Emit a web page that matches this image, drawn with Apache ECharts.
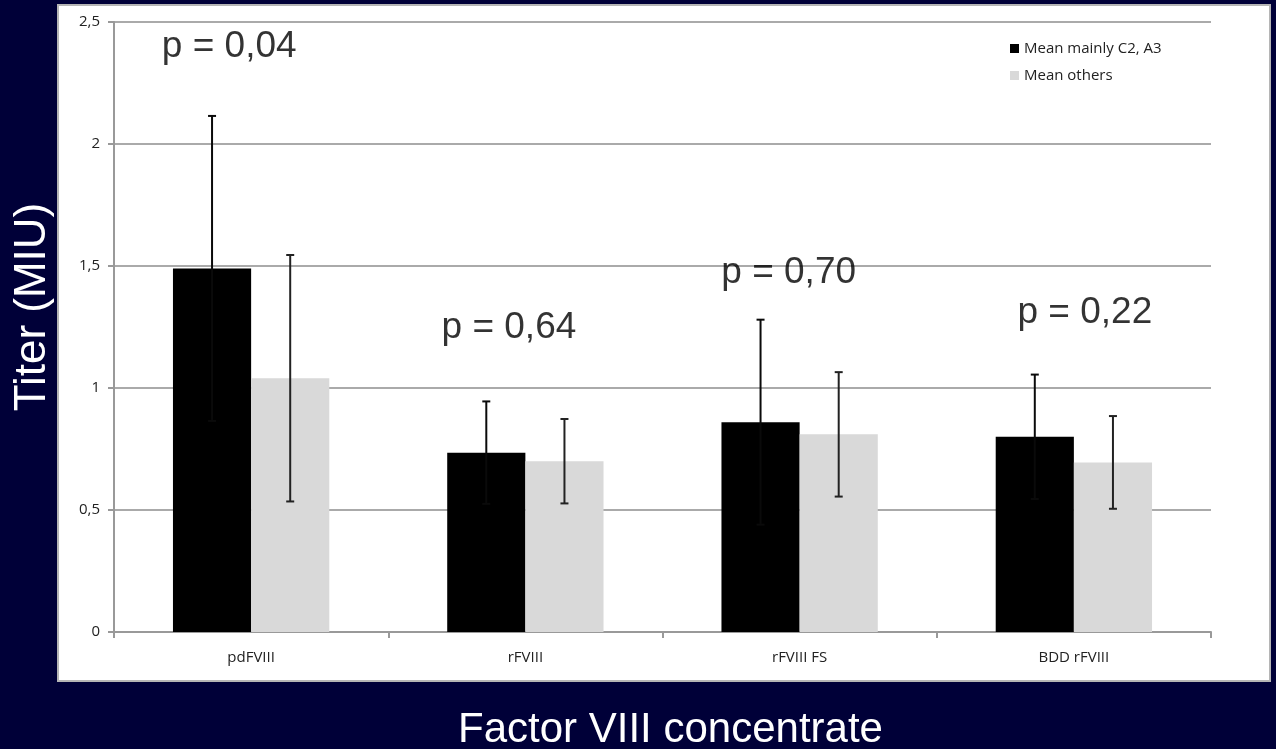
<!DOCTYPE html>
<html>
<head>
<meta charset="utf-8">
<script src="https://cdn.jsdelivr.net/npm/echarts@6/dist/echarts.min.js"></script>
<style>
html,body{margin:0;padding:0;background:#000038;}
#chart{width:1276px;height:749px;}
</style>
</head>
<body>
<div id="chart"></div>
<script>
var categories = ['pdFVIII', 'rFVIII', 'rFVIII FS', 'BDD rFVIII'];
var meanC2A3 = [1.49, 0.735, 0.86, 0.80];
var sdC2A3 = [0.625, 0.21, 0.42, 0.255];
var meanOthers = [1.04, 0.70, 0.81, 0.695];
var sdOthers = [0.505, 0.173, 0.255, 0.19];
var pLabels = ['p = 0,04', 'p = 0,64', 'p = 0,70', 'p = 0,22'];
var pX = [0.42, 1.44, 2.46, 3.54];
var pY = [2.40, 1.248, 1.472, 1.31];
var yTicks = ['0', '0,5', '1', '1,5', '2', '2,5'];

var CAT_GAP = 0.43;

function errorSeries(name, means, sds, side, color) {
  return {
    type: 'custom',
    name: name + ' SD',
    xAxisIndex: 0,
    yAxisIndex: 0,
    z: 5,
    silent: true,
    data: means.map(function (m, i) { return [i, m - sds[i], m + sds[i]]; }),
    renderItem: function (params, api) {
      var idx = api.value(0);
      var band = api.size([1, 0])[0];
      var barW = band * (1 - CAT_GAP) / 2;
      var lo = api.coord([idx, api.value(1)]);
      var hi = api.coord([idx, api.value(2)]);
      var x = lo[0] + side * barW / 2;
      var cap = 4;
      var st = { stroke: color, lineWidth: 2 };
      return {
        type: 'group',
        children: [
          { type: 'line', shape: { x1: x, y1: lo[1], x2: x, y2: hi[1] }, style: st },
          { type: 'line', shape: { x1: x - cap, y1: lo[1], x2: x + cap, y2: lo[1] }, style: st },
          { type: 'line', shape: { x1: x - cap, y1: hi[1], x2: x + cap, y2: hi[1] }, style: st }
        ]
      };
    }
  };
}

var chart = echarts.init(document.getElementById('chart'));
chart.setOption({
  backgroundColor: '#000038',
  animation: false,
  graphic: [
    {
      type: 'rect', z: -10, silent: true,
      shape: { x: 58, y: 5, width: 1212, height: 676 },
      style: { fill: '#ffffff', stroke: '#b5b5b5', lineWidth: 2 }
    }
  ],
  grid: { left: 114, right: 65, top: 22, bottom: 117, containLabel: false, outerBoundsMode: 'none' },
  legend: {
    orient: 'vertical',
    left: 1005,
    top: 36,
    itemWidth: 9,
    itemHeight: 9,
    itemGap: 12,
    icon: 'rect',
    data: ['Mean mainly C2, A3', 'Mean others'],
    textStyle: { fontFamily: 'Open Sans', fontSize: 15, color: '#222' }
  },
  xAxis: [
    {
      type: 'category',
      data: categories,
      axisLine: { lineStyle: { color: '#999', width: 2 } },
      axisTick: { show: true, length: 6, lineStyle: { color: '#999', width: 2 } },
      axisLabel: { fontFamily: 'Open Sans', fontSize: 15, color: '#222', margin: 18 },
      name: 'Factor VIII concentrate',
      nameLocation: 'middle',
      nameGap: 77,
      nameTextStyle: { fontFamily: 'Liberation Sans', fontSize: 42, color: '#ffffff', padding: [0, 0, 0, 16] }
    },
    { type: 'value', min: 0, max: 4, show: false }
  ],
  yAxis: {
    type: 'value',
    min: 0,
    max: 2.5,
    interval: 0.5,
    axisLine: { show: true, lineStyle: { color: '#999', width: 2 } },
    axisTick: { show: true, length: 6, lineStyle: { color: '#999', width: 2 } },
    splitLine: { lineStyle: { color: '#aaa', width: 2 } },
    axisLabel: {
      fontFamily: 'Open Sans', fontSize: 15, color: '#222', margin: 14,
      formatter: function (v) { return yTicks[Math.round(v / 0.5)]; }
    },
    name: 'Titer (MIU)',
    nameLocation: 'middle',
    nameGap: 59,
    nameTextStyle: { fontFamily: 'Liberation Sans', fontSize: 44, color: '#ffffff', padding: [0, 0, 0, 40] }
  },
  series: [
    {
      type: 'bar', name: 'Mean mainly C2, A3', data: meanC2A3,
      itemStyle: { color: '#000000' },
      barGap: '0%', barCategoryGap: (CAT_GAP * 100) + '%'
    },
    {
      type: 'bar', name: 'Mean others', data: meanOthers,
      itemStyle: { color: '#d9d9d9' },
      barGap: '0%', barCategoryGap: (CAT_GAP * 100) + '%'
    },
    errorSeries('Mean mainly C2, A3', meanC2A3, sdC2A3, -1, '#0a0a0a'),
    errorSeries('Mean others', meanOthers, sdOthers, 1, '#222222'),
    {
      type: 'scatter',
      xAxisIndex: 1,
      yAxisIndex: 0,
      symbolSize: 0,
      silent: true,
      z: 10,
      data: pX.map(function (x, i) { return [x, pY[i]]; }),
      label: {
        show: true,
        position: 'inside',
        formatter: function (p) { return pLabels[p.dataIndex]; },
        fontFamily: 'Liberation Sans',
        fontSize: 37,
        color: '#000000',
        textBorderWidth: 0
      }
    }
  ]
});
</script>
</body>
</html>
